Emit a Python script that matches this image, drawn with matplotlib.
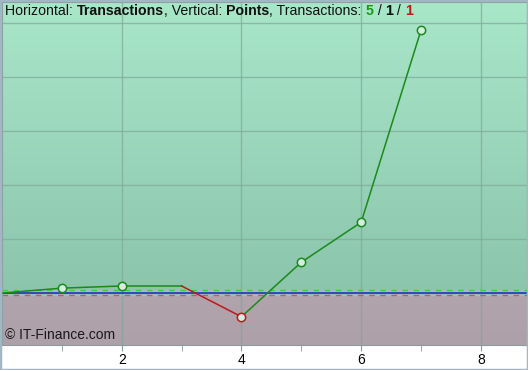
import numpy as np
import matplotlib
matplotlib.use("Agg")
import matplotlib.pyplot as plt
from matplotlib.patches import Rectangle
from matplotlib.colors import LinearSegmentedColormap

# transactions / points
trade_x = [0, 1, 2, 3, 4, 5, 6, 7]
points = [0.0, 0.09, 0.13, 0.13, -0.44, 0.57, 1.31, 4.87]
marker_x = [1, 2, 4, 5, 6, 7]
marker_y = [0.09, 0.13, -0.44, 0.57, 1.31, 4.87]
loss_idx = [4]
upper_lvl = 0.056
lower_lvl = -0.037

plt.rcParams['font.family'] = ['Liberation Sans', 'DejaVu Sans']

fig = plt.figure(figsize=(5.28, 3.70), dpi=100)
fig.patch.set_facecolor('white')
ax = fig.add_axes([2/528, 1 - 345/370, 525/528, 343/370])

ymin, ymax = -0.963, 5.389
xmin, xmax = 0, 8.77
ax.set_xlim(xmin, xmax)
ax.set_ylim(ymin, ymax)

# background gradients
up = LinearSegmentedColormap.from_list('up', ['#8bc5ac', '#a9e7c9'])
dn = LinearSegmentedColormap.from_list('dn', ['#aea0a9', '#b1a4ac'])
g = np.linspace(0, 1, 256).reshape(-1, 1)
ax.imshow(g, cmap=up, aspect='auto', origin='lower',
          extent=[xmin, xmax, 0, ymax], zorder=0)
ax.imshow(g, cmap=dn, aspect='auto', origin='lower',
          extent=[xmin, xmax, ymin, 0], zorder=0)
ax.axhspan(lower_lvl, upper_lvl, color='#a2bcc6', zorder=0.5)

ax.set_yticks(range(0, 6))
ax.set_xticks([2, 4, 6, 8])
ax.set_xticks([1, 3, 5, 7], minor=True)
ax.grid(True, which='major', color='#7ea896', linewidth=1, alpha=0.7, zorder=1)
ax.tick_params(axis='y', left=False, labelleft=False)
ax.tick_params(axis='x', which='both', direction='out', length=4,
               color='#8a9a9a', labelsize=10, pad=2)
for s in ax.spines.values():
    s.set_color('#8a9a9a')

ax.axhline(upper_lvl, color='#3ad23a', linestyle=(0, (4, 4)), linewidth=1, zorder=2)
ax.axhline(lower_lvl, color='#e05050', linestyle=(0, (4, 4)), linewidth=1, zorder=2)
ax.axhline(0, color='#2038b8', linewidth=1.2, zorder=2)

for i in range(len(trade_x) - 1):
    col = '#c01818' if (i + 1) in loss_idx else '#1a8a1a'
    ax.plot(trade_x[i:i + 2], points[i:i + 2], color=col, linewidth=1.1, zorder=3)
for mx, my in zip(marker_x, marker_y):
    ec = '#c01818' if mx in loss_idx else '#1a8a1a'
    ax.plot(mx, my, 'o', ms=6, mfc='#d4ece2', mec=ec, mew=1.1, zorder=4)

# header text in pieces
pieces = [("Horizontal: ", 'normal', '#101010'), ("Transactions", 'bold', '#101010'),
          (", Vertical: ", 'normal', '#101010'), ("Points", 'bold', '#101010'),
          (", Transactions: ", 'normal', '#101010'), ("5", 'bold', '#1a9a1a'),
          (" / ", 'normal', '#101010'), ("1", 'bold', '#101010'),
          (" / ", 'normal', '#101010'), ("1", 'bold', '#c01818')]
fig.canvas.draw()
r = fig.canvas.get_renderer()
xpos = 5
for txt, w, c in pieces:
    t = fig.text(xpos / 528, 1 - 15 / 370, txt, fontsize=10.2, fontweight=w, color=c,
                 ha='left', va='baseline')
    xpos += t.get_window_extent(renderer=r).width

ax.text(3 / 525, 1 - (339 - 2) / 343, "\u00a9 IT-Finance.com", transform=ax.transAxes,
        fontsize=10, color='#1a1a1a', ha='left', va='baseline', zorder=5)

fig.add_artist(Rectangle((0, 0), 1, 1, transform=fig.transFigure, fill=False,
                         edgecolor='#a0b8c4', linewidth=2.5))

fig.savefig('out.png', dpi=100)
